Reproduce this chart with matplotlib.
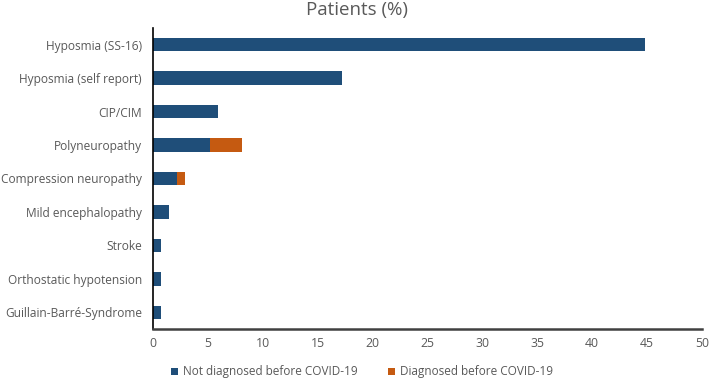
import numpy as np
import matplotlib.pyplot as plt

plt.rcParams['font.family'] = ['Open Sans', 'DejaVu Sans']

# data, top to bottom
categories = ['Hyposmia (SS-16)', 'Hyposmia (self report)', 'CIP/CIM', 'Polyneuropathy',
              'Compression neuropathy', 'Mild encephalopathy', 'Stroke',
              'Orthostatic hypotension', 'Guillain-Barré-Syndrome']
not_diagnosed = [44.8, 17.2, 5.9, 5.2, 2.2, 1.5, 0.7, 0.7, 0.7]
diagnosed = [0, 0, 0, 2.9, 0.7, 0, 0, 0, 0]
xticks = [0, 5, 10, 15, 20, 25, 30, 35, 40, 45, 50]

blue = '#1f4e79'
orange = '#c55a11'
grey = '#595959'

fig = plt.figure(figsize=(7.09, 3.80), dpi=100)
ax = fig.add_axes([153/709, 1-329/380, (702-153)/709, (329-28)/380])

y = np.arange(len(categories))
ax.barh(y, not_diagnosed, height=0.4, color=blue, label='Not diagnosed before COVID-19')
ax.barh(y, diagnosed, left=not_diagnosed, height=0.4, color=orange, label='Diagnosed before COVID-19')

ax.set_ylim(len(categories)-0.5, -0.5)
ax.set_yticks(y)
ax.set_yticklabels(categories, color=grey, fontsize=8.6)
ax.set_xlim(0, 50)
ax.set_xticks(xticks)
ax.set_xticklabels([str(v) for v in xticks], color=grey, fontsize=8.8)
ax.tick_params(length=0, pad=8)
ax.tick_params(axis='x', pad=6)

for s in ['top', 'right']:
    ax.spines[s].set_visible(False)
ax.spines['left'].set_color('black')
ax.spines['bottom'].set_color('#404040')
ax.spines['left'].set_linewidth(1.2)
ax.spines['bottom'].set_linewidth(1.8)

fig.text(357/709, 1-10/380, 'Patients (%)', ha='center', va='center', fontsize=13.5, color=grey)

leg = fig.legend(loc='center', bbox_to_anchor=(362/709, 1-372/380), ncol=2, frameon=False,
                 fontsize=8.5, handlelength=0.6, handleheight=0.6, handletextpad=0.4,
                 columnspacing=2.6)
for t in leg.get_texts():
    t.set_color(grey)

fig.savefig('out.png', dpi=100)
